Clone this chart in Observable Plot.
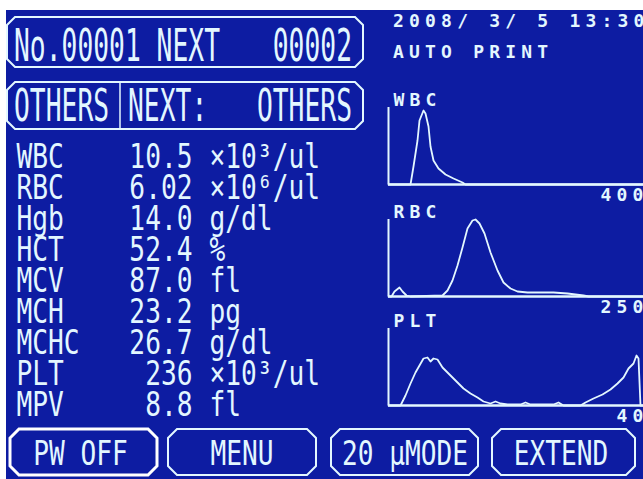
<!DOCTYPE html>
<html>
<head>
<meta charset="utf-8">
<script src="https://cdn.jsdelivr.net/npm/d3@7"></script>
<script src="https://cdn.jsdelivr.net/npm/@observablehq/plot@0.6"></script>
<style>
html, body { margin: 0; padding: 0; background: #ffffff; overflow: hidden; }
#screen { position: relative; width: 643px; height: 479px; overflow: hidden; background: #ffffff; }
#panel { position: absolute; left: 6px; top: 10px; width: 637px; height: 469px; background: #0d1ca2; }
#screen svg { position: absolute; }
</style>
</head>
<body>
<div id="screen"><div id="panel"></div></div>
<script>
// ---------- data ----------
const params = ["WBC", "RBC", "Hgb", "HCT", "MCV", "MCH", "MCHC", "PLT", "MPV"];
const values = ["10.5", "6.02", "14.0", "52.4", "87.0", "23.2", "26.7", "236", "8.8"];
const units  = ["×10³/ul", "×10⁶/ul", "g/dl", "%", "fl", "pg", "g/dl", "×10³/ul", "fl"];

const headerLeft = "No.00001 NEXT";
const headerRight = "00002";
const modeLeft = "OTHERS";
const modeMid = "NEXT:";
const modeRight = "OTHERS";
const stampLines = ["2008/ 3/ 5 13:30", "AUTO PRINT"];
const buttons = ["PW OFF", "MENU", "20 μMODE", "EXTEND"];

const histNames = ["WBC", "RBC", "PLT"];
const histMax = ["400", "250", "40"];

// histogram channels (0..255) and relative counts (axis top = 77)
const wbcX = [0, 22, 25, 29, 31, 35, 37, 40, 42, 45, 50, 57, 65, 74, 77, 255];
const wbcY = [0, 0, 18, 44, 64, 74, 71, 58, 38, 24, 16, 10, 6, 2, 0, 0];

const rbcX = [0, 3, 6, 11, 14, 18, 22, 54, 59, 64, 69, 74, 79, 84, 87, 91, 96, 102, 109, 115, 122, 129, 139, 150, 165, 179, 195, 200, 255];
const rbcY = [0, 0, 5, 9, 5, 1, 0, 1, 6, 16, 31, 49, 68, 76, 77, 73, 63, 44, 26, 14, 8, 5, 4, 4, 4, 3, 1, 0, 0];

const pltX = [0, 12, 17, 22, 27, 31, 35, 39, 42, 45, 49, 54, 59, 64, 69, 75, 82, 89, 95, 102, 107, 112, 119, 132, 137, 142, 165, 170, 175, 192, 197, 205, 214, 222, 229, 235, 240, 245, 248, 250, 252, 255];
const pltY = [0, 0, 10, 22, 33, 40, 47, 48, 44, 47, 46, 38, 33, 28, 23, 17, 12, 8, 4, 2, 4, 2, 1, 1, 3, 1, 1, 3, 0, 0, 3, 7, 11, 16, 22, 28, 37, 42, 50, 47, 0, 0];

// ---------- style ----------
const FG = "#e3f7ff";
const MONO = "DejaVu Sans Mono, monospace";
const screen = document.getElementById("screen");

// ---------- screen chrome (boxes, buttons, captions) ----------
const chrome = d3.create("svg").attr("width", 643).attr("height", 479)
  .style("left", "0px").style("top", "0px");

function chamfer(x0, y0, x1, y1, c) {
  return `M${x0 + c},${y0}H${x1 - c}L${x1},${y0 + c}V${y1 - c}L${x1 - c},${y1}H${x0 + c}L${x0},${y1 - c}V${y0 + c}Z`;
}
function label(str, x, y, o) {
  chrome.append("text")
    .attr("transform", `translate(${x},${y}) scale(${o.sx || 1},1)`)
    .attr("text-anchor", o.anchor || "start")
    .attr("font-family", MONO)
    .attr("font-size", o.size)
    .attr("font-weight", o.weight || "normal")
    .attr("letter-spacing", o.spacing || 0)
    .attr("fill", FG)
    .style("white-space", "pre")
    .text(str);
}

chrome.append("path").attr("d", chamfer(7, 17, 363, 67, 8)).attr("fill", "none").attr("stroke", FG).attr("stroke-width", 2);
chrome.append("path").attr("d", chamfer(7, 82, 363, 129, 8)).attr("fill", "none").attr("stroke", FG).attr("stroke-width", 2);
chrome.append("line").attr("x1", 120).attr("x2", 120).attr("y1", 82).attr("y2", 129).attr("stroke", FG).attr("stroke-width", 1.5);

label(headerLeft, 14, 61, {size: 45, sx: 0.585});
label(headerRight, 352, 61, {size: 45, sx: 0.585, anchor: "end"});
label(modeLeft, 14, 121, {size: 45, sx: 0.585});
label(modeMid, 128, 121, {size: 45, sx: 0.585});
label(modeRight, 352, 121, {size: 45, sx: 0.585, anchor: "end"});

label(stampLines[0], 393, 27, {size: 18, weight: "bold", spacing: 5.2});
label(stampLines[1], 393, 58, {size: 18, weight: "bold", spacing: 5.2});

const btnBoxes = [[10, 157], [168, 316], [331, 478], [492, 635]];
const btnCenters = [80.5, 242, 405, 561];
btnBoxes.forEach(([a, b], i) => {
  chrome.append("path").attr("d", chamfer(a, 429, b, 475, 9)).attr("fill", "none")
    .attr("stroke", i === 0 ? "#ffffff" : FG).attr("stroke-width", i === 0 ? 3 : 2);
  label(buttons[i], btnCenters[i], 465, {size: 34, sx: 0.77, anchor: "middle"});
});
screen.appendChild(chrome.node());

// ---------- helper: horizontally condense Plot text ----------
function squeeze(svg, sx) {
  svg.querySelectorAll('g[aria-label="text"] text').forEach(t => {
    let pre = t.getAttribute("transform") || "";
    const x = t.getAttribute("x"), y = t.getAttribute("y");
    if (x && !/em$/.test(x)) { pre += ` translate(${x},0)`; t.removeAttribute("x"); }
    if (y && !/em$/.test(y)) { pre += ` translate(0,${y})`; t.removeAttribute("y"); }
    t.setAttribute("transform", pre + ` scale(${sx},1)`);
  });
}

// ---------- parameter table ----------
const rows = params.map((p, i) => ({param: p, value: values[i], unit: units[i]}));
const tStyle = {fill: FG, fontFamily: MONO, fontSize: 33, frameAnchor: "left", lineAnchor: "bottom"};
const table = Plot.plot({
  width: 380, height: 300, margin: 0,
  y: {type: "point", domain: params, range: [35, 287], padding: 0, axis: null},
  style: {background: "transparent", overflow: "visible"},
  marks: [
    Plot.text(rows, {...tStyle, y: "param", text: "param", textAnchor: "start", dx: 16}),
    Plot.text(rows, {...tStyle, y: "param", text: "value", textAnchor: "end", dx: 192}),
    Plot.text(rows, {...tStyle, y: "param", text: "unit", textAnchor: "start", dx: 209})
  ]
});
squeeze(table, 0.795);
table.style.left = "0px";
table.style.top = "130px";
screen.appendChild(table);

// ---------- histograms ----------
function histogram(xs, ys, name, max) {
  const pts = xs.map((x, i) => ({bin: x, count: ys[i]}));
  const lab = {fill: FG, fontFamily: MONO, fontSize: 18, fontWeight: "bold", text: d => d};
  const svg = Plot.plot({
    width: 263, height: 116,
    marginLeft: 8, marginRight: 0, marginTop: 19, marginBottom: 20,
    x: {domain: [0, 255], axis: null},
    y: {domain: [0, 77], axis: null},
    style: {background: "transparent", overflow: "visible"},
    marks: [
      Plot.ruleY([0], {stroke: FG, strokeWidth: 2.4}),
      Plot.ruleX([0], {stroke: FG, strokeWidth: 2}),
      Plot.line(pts, {x: "bin", y: "count", stroke: FG, strokeWidth: 1.8}),
      Plot.text([name], {...lab, frameAnchor: "top-left", textAnchor: "start", lineAnchor: "bottom", dx: 5, dy: -2}),
      Plot.text([max], {...lab, frameAnchor: "bottom-right", textAnchor: "end", lineAnchor: "top", dx: 5, dy: 4})
    ]
  });
  d3.select(svg).selectAll('g[aria-label="text"]').attr("letter-spacing", "5.2px");
  return svg;
}
const hists = [[wbcX, wbcY], [rbcX, rbcY], [pltX, pltY]];
const tops = [88, 200, 309];
hists.forEach(([xs, ys], i) => {
  const svg = histogram(xs, ys, histNames[i], histMax[i]);
  svg.style.left = "380px";
  svg.style.top = tops[i] + "px";
  screen.appendChild(svg);
});
</script>
</body>
</html>
